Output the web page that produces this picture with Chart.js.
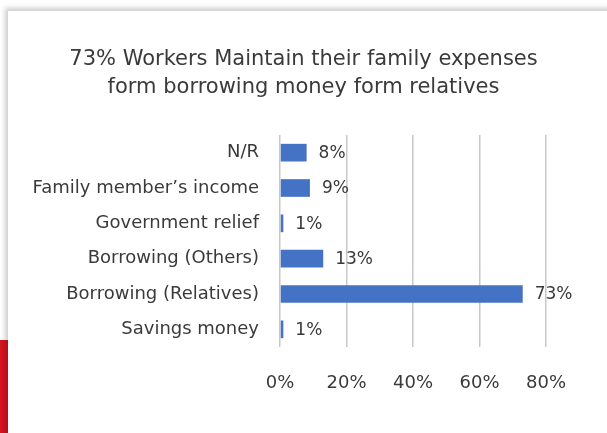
<!DOCTYPE html>
<html>
<head>
<meta charset="utf-8">
<script src="https://cdn.jsdelivr.net/npm/chart.js@4/dist/chart.umd.min.js"></script>
<style>
    html, body { margin: 0; padding: 0; background: #fff; overflow: hidden; }
    body { width: 607px; height: 433px; position: relative; }
    /* card behind the chart, shadow on top/left edges */
    .card {
        position: absolute; left: 8px; top: 11px; width: 700px; height: 450px;
        background: #fff; box-shadow: -3px -3px 5px rgba(0, 0, 0, 0.2);
    }
    .red-strip {
        position: absolute; left: 0; top: 340px; width: 8px; height: 93px;
        background: linear-gradient(to right, #d4151f, #b40f18);
    }
    #chart { position: absolute; left: 0; top: 0; }
</style>
</head>
<body>
<div class="card"></div>
<div class="red-strip"></div>
<canvas id="chart" width="607" height="433"></canvas>
<script>
// Sources of family expenses (share of workers)
const categories = ['N/R', 'Family member\u2019s income', 'Government relief', 'Borrowing (Others)', 'Borrowing (Relatives)', 'Savings money'];
const shares = [8, 9, 1, 13, 73, 1];
const xTicks = [0, 20, 40, 60, 80];

const titleLines = ['73% Workers Maintain their family expenses', 'form borrowing money form relatives'];
const textColor = '#3a3a3a';
const fontFamily = '"DejaVu Sans", sans-serif';

// Value labels to the right of each bar
const barLabels = {
    id: 'barLabels',
    afterDatasetsDraw(chart) {
        const ctx = chart.ctx;
        const meta = chart.getDatasetMeta(0);
        ctx.save();
        ctx.fillStyle = textColor;
        ctx.font = '17px ' + fontFamily;
        ctx.textAlign = 'left';
        ctx.textBaseline = 'middle';
        meta.data.forEach((bar, i) => {
            ctx.fillText(shares[i] + '%', bar.x + 12, bar.y + 1);
        });
        ctx.restore();
    }
};

// Title centred on the whole canvas, not just the padded area
const centreTitle = {
    id: 'centreTitle',
    afterLayout(chart) {
        const t = chart.titleBlock;
        if (t) {
            t.left = 0;
            t.right = chart.width;
            t.width = chart.width;
        }
    }
};

new Chart(document.getElementById('chart'), {
    type: 'bar',
    data: {
        labels: categories,
        datasets: [{
            data: shares,
            backgroundColor: '#4472C4',
            barPercentage: 0.5,
            categoryPercentage: 1
        }]
    },
    options: {
        indexAxis: 'y',
        responsive: false,
        animation: false,
        layout: { padding: { left: 0, right: 61, top: 0, bottom: 0 } },
        plugins: {
            legend: { display: false },
            tooltip: { enabled: false },
            title: {
                display: true,
                text: titleLines,
                color: textColor,
                font: { family: fontFamily, size: 21, weight: 'normal', lineHeight: 28.5 / 21 },
                padding: { top: 45, bottom: 33 }
            }
        },
        scales: {
            x: {
                min: 0,
                max: 80,
                afterBuildTicks(scale) {
                    scale.ticks = xTicks.map(v => ({ value: v }));
                },
                afterFit(scale) { scale.height = 86; },
                border: { display: false },
                grid: { color: '#c8c8c8', lineWidth: 1.5, drawTicks: false },
                ticks: {
                    color: textColor,
                    padding: 26,
                    font: { family: fontFamily, size: 18 },
                    callback: v => v + '%'
                }
            },
            y: {
                afterFit(scale) { scale.width = 280; },
                border: { display: false },
                grid: { display: false },
                ticks: {
                    color: textColor,
                    padding: 13,
                    font: { family: fontFamily, size: 18 }
                }
            }
        }
    },
    plugins: [barLabels, centreTitle]
});
</script>
</body>
</html>
